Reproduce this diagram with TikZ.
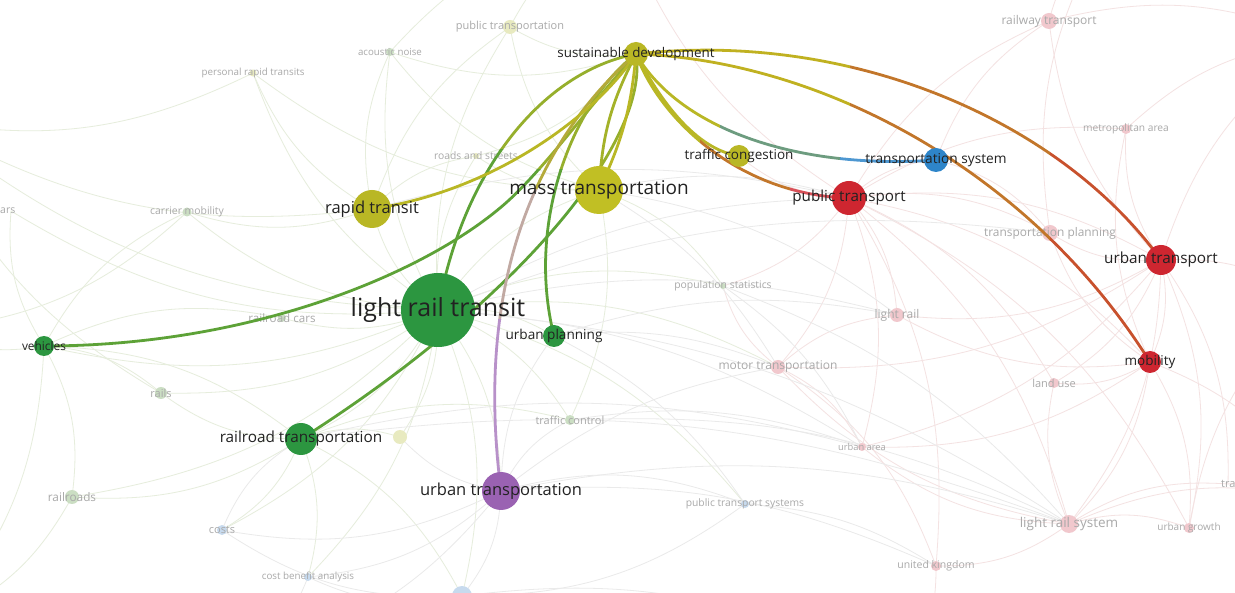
\documentclass[tikz,border=0pt]{standalone}
\usepackage{fontspec}
\setmainfont{Open Sans}
\newcommand\fs[1]{\fontsize{#1}{#1}\selectfont}
\newcommand\hlband[3]{\begin{scope}\clip #1;\draw[hl,#2] #3;\end{scope}}
\definecolor{cyel}{HTML}{B9B725}
\definecolor{cmt}{HTML}{C1BF24}
\definecolor{cgrn}{HTML}{2C9640}
\definecolor{cred}{HTML}{CE2630}
\definecolor{cblu}{HTML}{2E85C9}
\definecolor{cpur}{HTML}{9A62B2}
\definecolor{fgrn}{HTML}{CBDEC3}
\definecolor{fyel}{HTML}{E8EAC0}
\definecolor{fpnk}{HTML}{F1C8CD}
\definecolor{fblu}{HTML}{C7DAEE}
\definecolor{egrn}{HTML}{E6EDDC}
\definecolor{epnk}{HTML}{F4E2E2}
\definecolor{egry}{HTML}{EAEAEA}
\definecolor{flab}{HTML}{A9A9A9}
\definecolor{mlab}{HTML}{222222}
\begin{document}
\begin{tikzpicture}[x=1pt,y=-1pt,
  fe/.style={line width=0.8pt},
  hl/.style={line width=2.8pt},
  nd/.style={circle,inner sep=0pt,minimum size=#1},
  lab/.style={text=mlab,inner sep=0pt,font=\fs{#1}},
  flb/.style={text=flab,inner sep=0pt,font=\fs{#1}}]
\useasboundingbox (0,0) rectangle (1235,593);
\clip (0,0) rectangle (1235,593);
\fill[white] (0,0) rectangle (1235,593);
% main coordinates
\coordinate (sd) at (636,54);
\coordinate (mt) at (599,190);
\coordinate (rt) at (372,209);
\coordinate (lrt) at (438,310);
\coordinate (tc) at (739,156);
\coordinate (ts) at (936,160);
\coordinate (pt) at (849,198);
\coordinate (utr) at (1161,260);
\coordinate (mob) at (1150,362);
\coordinate (up) at (554,336);
\coordinate (veh) at (44,346);
\coordinate (rrt) at (301,439);
\coordinate (utn) at (501,491);
\coordinate (fy) at (400,437);
% faint coordinates
\coordinate (pubtr) at (510,27);
\coordinate (acn) at (390,52);
\coordinate (prt) at (253,73);
\coordinate (rns) at (476,156);
\coordinate (carr) at (187,212);
\coordinate (ars) at (11,211);
\coordinate (rcar) at (282,318);
\coordinate (rails) at (161,393);
\coordinate (rroads) at (72,497);
\coordinate (costs) at (222,530);
\coordinate (cba) at (308,577);
\coordinate (tctl) at (570,420);
\coordinate (pop) at (723,286);
\coordinate (motor) at (778,367);
\coordinate (lrail) at (897,315);
\coordinate (tplan) at (1050,233);
\coordinate (rwy) at (1049,21);
\coordinate (metro) at (1126,129);
\coordinate (land) at (1054,383);
\coordinate (uarea) at (862,447);
\coordinate (pts) at (745,504);
\coordinate (lrs) at (1069,524);
\coordinate (ugr) at (1189,528);
\coordinate (uk) at (936,566);
\coordinate (bb) at (462,596);
\coordinate (tra) at (1228,484);
% off-canvas ends
\coordinate (o1) at (-80,120);
\coordinate (o2) at (-60,620);
\coordinate (o3) at (1320,40);
\coordinate (o4) at (1320,500);
\coordinate (o5) at (620,-80);
\coordinate (o6) at (240,660);
\coordinate (o7) at (900,680);
\coordinate (o8) at (1310,300);
\coordinate (o9) at (-70,330);
\coordinate (o10) at (1100,-60);
% faint edges
\foreach \a/\b in {lrt/pubtr,lrt/acn,lrt/prt,lrt/rns,lrt/carr,lrt/rcar,lrt/rails,lrt/rroads,lrt/costs,lrt/cba,lrt/tctl,lrt/pop,lrt/bb,lrt/fy,lrt/veh,lrt/rrt,lrt/utn,lrt/up,lrt/rt,lrt/mt,lrt/ars,lrt/motor,lrt/pts,rt/pubtr,rt/acn,rt/prt,rt/carr,rt/rns,veh/carr,veh/rails,veh/rcar,veh/rroads,veh/rrt,veh/ars,rrt/rails,rrt/rroads,rrt/costs,rrt/cba,rrt/bb,rrt/tctl,rrt/fy,mt/pubtr,mt/acn,mt/rns,mt/prt,mt/pop,mt/tctl,sd/pubtr,sd/acn,sd/rns,lrt/o1,rt/o1,veh/o2,rails/o1,rroads/o2,veh/o9,carr/o9,prt/o1,acn/o5,pubtr/o5}
  \draw[fe,egrn] (\a) to[bend left=18] (\b);
\foreach \a/\b in {utn/bb,utn/costs,utn/cba,utn/tctl,utn/pts,utn/fy,utn/up,bb/costs,bb/cba,costs/rrt,pts/bb,utn/o6,cba/o6,bb/o7}
  \draw[fe,egry] (\a) to[bend left=18] (\b);
\foreach \a/\b in {pt/rwy,pt/metro,pt/tplan,pt/lrail,pt/land,pt/motor,pt/uarea,pt/lrs,pt/ugr,pt/uk,pt/utr,pt/mob,pt/pop,pt/ts,pt/tc,utr/rwy,utr/metro,utr/tplan,utr/land,utr/lrs,utr/ugr,utr/mob,utr/lrail,utr/motor,utr/uarea,utr/tra,mob/tplan,mob/land,mob/lrs,mob/ugr,mob/lrail,mob/metro,mob/uarea,lrs/uk,lrs/ugr,lrs/uarea,lrs/land,lrs/motor,lrs/tra,motor/uarea,motor/lrail,motor/pop,motor/uk,utr/o3,utr/o8,mob/o4,lrs/o4,rwy/o3,pt/o5,ugr/o8,metro/o3,uk/o7,rwy/o10,tplan/o10,tra/o4,ts/rwy,ts/tplan}
  \draw[fe,epnk] (\a) to[bend left=18] (\b);
\foreach \a/\b in {lrt/pt,lrt/lrail,lrt/lrs,mt/pt,mt/motor,utn/uk,utn/lrs,rrt/lrs,pop/lrs,tctl/uarea,pts/uk,up/motor,up/lrail,rrt/uarea,mt/lrail,rt/pt,lrt/uarea,up/pts,tctl/lrs,pop/uarea,utn/motor,lrt/tplan}
  \draw[fe,egry] (\a) to[bend left=14] (\b);
% faint nodes
\node[nd=14pt,fill=fyel] (pubtrN) at (pubtr) {};
\node[nd=8pt,fill=fgrn] (acnN) at (acn) {};
\node[nd=7pt,fill=fyel] (prtN) at (prt) {};
\node[nd=6pt,fill=fyel] (rnsN) at (rns) {};
\node[nd=9pt,fill=fgrn] (carrN) at (carr) {};
\node[nd=8pt,fill=fgrn] (rcarN) at (rcar) {};
\node[nd=12pt,fill=fgrn] (railsN) at (rails) {};
\node[nd=14pt,fill=fgrn] (rroadsN) at (rroads) {};
\node[nd=10pt,fill=fblu] (costsN) at (costs) {};
\node[nd=8pt,fill=fblu] (cbaN) at (cba) {};
\node[nd=10pt,fill=fgrn] (tctlN) at (tctl) {};
\node[nd=6pt,fill=fgrn] (popN) at (pop) {};
\node[nd=14pt,fill=fpnk] (motorN) at (motor) {};
\node[nd=14pt,fill=fpnk] (lrailN) at (lrail) {};
\node[nd=16pt,fill=fpnk] (tplanN) at (tplan) {};
\node[nd=16pt,fill=fpnk] (rwyN) at (rwy) {};
\node[nd=10pt,fill=fpnk] (metroN) at (metro) {};
\node[nd=10pt,fill=fpnk] (landN) at (land) {};
\node[nd=8pt,fill=fpnk] (uareaN) at (uarea) {};
\node[nd=8pt,fill=fblu] (ptsN) at (pts) {};
\node[nd=18pt,fill=fpnk] (lrsN) at (lrs) {};
\node[nd=10pt,fill=fpnk] (ugrN) at (ugr) {};
\node[nd=10pt,fill=fpnk] (ukN) at (uk) {};
\node[nd=20pt,fill=fblu] (bbN) at (bb) {};
\node[nd=14pt,fill=fyel] (fyN) at (fy) {};
% faint labels
\node[flb=11] (pubtrL) at (pubtr) {public transportation};
\node[flb=9.7] (acnL) at (acn) {acoustic noise};
\node[flb=9.8] (prtL) at (prt) {personal rapid transits};
\node[flb=10.3] (rnsL) at (rns) {roads and streets};
\node[flb=10.4] (carrL) at (carr) {carrier mobility};
\node[flb=10.5,anchor=west] (arsL) at (0,211) {ars};
\node[flb=11.6] (rcarL) at (rcar) {railroad cars};
\node[flb=11] (railsL) at (rails) {rails};
\node[flb=11.8] (rroadsL) at (rroads) {railroads};
\node[flb=11] (costsL) at (costs) {costs};
\node[flb=9.8] (cbaL) at (cba) {cost benefit analysis};
\node[flb=11] (tctlL) at (tctl) {traffic control};
\node[flb=10.4] (popL) at (pop) {population statistics};
\node[flb=12] (motorL) at (motor) {motor transportation};
\node[flb=12] (lrailL) at (lrail) {light rail};
\node[flb=11.9] (tplanL) at (tplan) {transportation planning};
\node[flb=12] (rwyL) at (rwy) {railway transport};
\node[flb=10.2] (metroL) at (metro) {metropolitan area};
\node[flb=11] (landL) at (land) {land use};
\node[flb=9.3] (uareaL) at (uarea) {urban area};
\node[flb=10.3] (ptsL) at (pts) {public transport systems};
\node[flb=13.5] (lrsL) at (lrs) {light rail system};
\node[flb=10] (ugrL) at (ugr) {urban growth};
\node[flb=10.5] (ukL) at (uk) {united kingdom};
\node[flb=11,anchor=west] (traL) at (1221,484) {tra};
% highlighted edges of "sustainable development"
% to vehicles
\hlband{(0,0) rectangle (1235,170)}{color=cyel!75!cgrn}{(sd) .. controls (590,105) and (540,175) .. (500,208) .. controls (420,275) and (250,346) .. (veh)}
\hlband{(0,170) rectangle (1235,593)}{color=cgrn!65!cyel}{(sd) .. controls (590,105) and (540,175) .. (500,208) .. controls (420,275) and (250,346) .. (veh)}
% to light rail transit
\hlband{(0,0) rectangle (1235,150)}{color=cyel!75!cgrn}{(sd) .. controls (550,70) and (465,160) .. (lrt)}
\hlband{(0,150) rectangle (1235,593)}{color=cgrn!65!cyel}{(sd) .. controls (550,70) and (465,160) .. (lrt)}
% to railroad transportation
\hlband{(0,0) rectangle (1235,190)}{color=cyel!75!cgrn}{(sd) .. controls (650,140) and (520,300) .. (rrt)}
\hlband{(0,190) rectangle (1235,593)}{color=cgrn!65!cyel}{(sd) .. controls (650,140) and (520,300) .. (rrt)}
% to urban planning
\hlband{(0,0) rectangle (1235,170)}{color=cyel!75!cgrn}{(sd) .. controls (575,100) and (525,220) .. (up)}
\hlband{(0,170) rectangle (1235,593)}{color=cgrn!65!cyel}{(sd) .. controls (575,100) and (525,220) .. (up)}
% to urban transportation
\hlband{(0,0) rectangle (1235,190)}{color=cyel!85!cpur}{(sd) .. controls (560,120) and (470,250) .. (utn)}
\hlband{(0,190) rectangle (1235,320)}{color=cyel!40!cpur!70!white}{(sd) .. controls (560,120) and (470,250) .. (utn)}
\hlband{(0,320) rectangle (1235,593)}{color=cpur!70!white}{(sd) .. controls (560,120) and (470,250) .. (utn)}
% to rapid transit
\draw[hl,cyel] (sd) .. controls (600,110) and (500,190) .. (rt);
% to mass transportation (two strands)
\draw[hl,cyel!85!cgrn] (sd) to[bend right=12] (mt);
\draw[hl,cyel] (sd) to[bend left=10] (mt);
% to traffic congestion
\draw[hl,cyel] (sd) .. controls (665,110) and (700,150) .. (tc);
% to transportation system
\hlband{(0,0) rectangle (720,593)}{color=cyel}{(sd) .. controls (680,130) and (800,170) .. (ts)}
\hlband{(720,0) rectangle (840,593)}{color=cyel!45!cblu}{(sd) .. controls (680,130) and (800,170) .. (ts)}
\hlband{(840,0) rectangle (1235,593)}{color=cblu!85!white}{(sd) .. controls (680,130) and (800,170) .. (ts)}
% to public transport
\hlband{(0,0) rectangle (700,593)}{color=cyel}{(sd) .. controls (660,120) and (740,195) .. (pt)}
\hlband{(700,0) rectangle (790,593)}{color=cyel!55!cred}{(sd) .. controls (660,120) and (740,195) .. (pt)}
\hlband{(790,0) rectangle (1235,593)}{color=cred!80!white}{(sd) .. controls (660,120) and (740,195) .. (pt)}
% to urban transport
\hlband{(0,0) rectangle (850,593)}{color=cyel!90!orange}{(sd) .. controls (850,30) and (1060,120) .. (utr)}
\hlband{(850,0) rectangle (1050,593)}{color=cyel!55!cred}{(sd) .. controls (850,30) and (1060,120) .. (utr)}
\hlband{(1050,0) rectangle (1235,593)}{color=cyel!30!cred}{(sd) .. controls (850,30) and (1060,120) .. (utr)}
% to mobility
\hlband{(0,0) rectangle (850,593)}{color=cyel!90!orange}{(sd) .. controls (820,60) and (1030,170) .. (mob)}
\hlband{(850,0) rectangle (1050,593)}{color=cyel!55!cred}{(sd) .. controls (820,60) and (1030,170) .. (mob)}
\hlband{(1050,0) rectangle (1235,593)}{color=cyel!30!cred}{(sd) .. controls (820,60) and (1030,170) .. (mob)}
% main nodes
\node[nd=74pt,fill=cgrn] (lrtN) at (lrt) {};
\node[nd=48pt,fill=cmt] (mtN) at (mt) {};
\node[nd=38pt,fill=cyel] (rtN) at (rt) {};
\node[nd=24pt,fill=cyel] (sdN) at (sd) {};
\node[nd=22pt,fill=cyel] (tcN) at (tc) {};
\node[nd=24pt,fill=cblu] (tsN) at (ts) {};
\node[nd=34pt,fill=cred] (ptN) at (pt) {};
\node[nd=30pt,fill=cred] (utrN) at (utr) {};
\node[nd=22pt,fill=cred] (mobN) at (mob) {};
\node[nd=22pt,fill=cgrn] (upN) at (up) {};
\node[nd=20pt,fill=cgrn] (vehN) at (veh) {};
\node[nd=32pt,fill=cgrn] (rrtN) at (rrt) {};
\node[nd=38pt,fill=cpur] (utnN) at (utn) {};
% main labels
\node[lab=25] (lrtL) at (lrt) {light rail transit};
\node[lab=19] (mtL) at (mt) {mass transportation};
\node[lab=16.5] (rtL) at (rt) {rapid transit};
\node[lab=13.4] (sdL) at (sd) {sustainable development};
\node[lab=13.5] (tcL) at (tc) {traffic congestion};
\node[lab=13.7] (tsL) at (ts) {transportation system};
\node[lab=15.2] (ptL) at (pt) {public transport};
\node[lab=15.3] (utrL) at (utr) {urban transport};
\node[lab=13.5] (mobL) at (mob) {mobility};
\node[lab=13.6] (upL) at (up) {urban planning};
\node[lab=11.9] (vehL) at (veh) {vehicles};
\node[lab=15.3] (rrtL) at (rrt) {railroad transportation};
\node[lab=16.5] (utnL) at (utn) {urban transportation};
\end{tikzpicture}
\end{document}
